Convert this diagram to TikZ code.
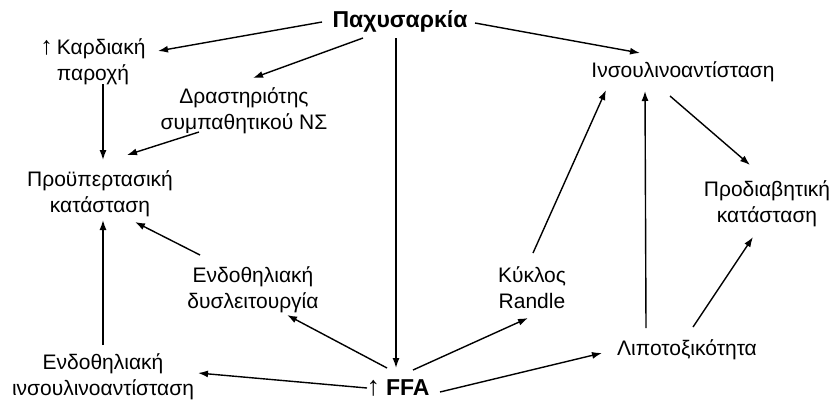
\documentclass[tikz,border=0pt]{standalone}
\usepackage{fontspec}
\setmainfont{Liberation Sans}
\usetikzlibrary{arrows.meta}
\newcommand{\uparr}[1]{{\fontsize{#1}{26}\selectfont ↑}}
\begin{document}
\begin{tikzpicture}[x=1pt,y=-1pt,
  lbl/.style={align=center,inner sep=0pt,font=\fontsize{21}{26}\selectfont},
  hd/.style={inner sep=0pt,font=\fontsize{23}{26}\selectfont\bfseries},
  conn/.style={line width=1.4pt,-{Latex[length=10pt,width=7pt]}}]
\useasboundingbox (0,0) rectangle (834,400);
% labels
\node[hd]  (pax)    at (400,21)  {Παχυσαρκία};
\node[lbl] (kard)   at (93,62)   {{\bfseries\uparr{25}}\hspace{4pt}Καρδιακή\\παροχή};
\node[lbl] (drast)  at (244,111) {Δραστηριότης\\συμπαθητικού ΝΣ};
\node[lbl] (proy)   at (100,194) {Προϋπερτασική\\κατάσταση};
\node[lbl] (endys)  at (253,290) {Ενδοθηλιακή\\δυσλειτουργία};
\node[lbl] (endins) at (103,377) {Ενδοθηλιακή\\ινσουλινοαντίσταση};
\node[hd]  (ffa)    at (398,388) {{\mdseries\uparr{27}}\hspace{6pt}FFA};
\node[lbl] (insr)   at (683,72)  {Ινσουλινοαντίσταση};
\node[lbl] (prod)   at (767,204) {Προδιαβητική\\κατάσταση};
\node[lbl] (randle) at (532,288) {Κύκλος\\Randle};
\node[lbl] (lipo)   at (687,350) {Λιποτοξικότητα};
% connectors
\draw[conn] ([shift={(-78,1)}]pax.center)   -- ([shift={(65,-11)}]kard.center);
\draw[conn] ([shift={(-37,17)}]pax.center)  -- ([shift={(9,-33)}]drast.center);
\draw[conn] ([shift={(75,2)}]pax.center)    -- ([shift={(-43,-19)}]insr.center);
\draw[conn] ([shift={(-4,17)}]pax.center)   -- ([shift={(-2,-20)}]ffa.center);
\draw[conn] ([shift={(10,22)}]kard.center)  -- ([shift={(3,-34)}]proy.center);
\draw[conn] ([shift={(-45,21)}]drast.center) -- ([shift={(27,-39)}]proy.center);
\draw[conn] ([shift={(-53,-35)}]endys.center) -- ([shift={(35,28)}]proy.center);
\draw[conn] ([shift={(0,-32)}]endins.center) -- ([shift={(3,26)}]proy.center);
\draw[conn] ([shift={(-11,-20)}]ffa.center) -- ([shift={(34,25)}]endys.center);
\draw[conn] ([shift={(-31,0)}]ffa.center)  -- ([shift={(95,-4)}]endins.center);
\draw[conn] ([shift={(15,-18)}]ffa.center)  -- ([shift={(-4,30)}]randle.center);
\draw[conn] ([shift={(42,4)}]ffa.center)    -- ([shift={(-85,3)}]lipo.center);
\draw[conn] ([shift={(1,-35)}]randle.center) -- ([shift={(-77,18)}]insr.center);
\draw[conn] ([shift={(-41,-22)}]lipo.center) -- ([shift={(-38,19)}]insr.center);
\draw[conn] ([shift={(6,-23)}]lipo.center)  -- ([shift={(-14,33)}]prod.center);
\draw[conn] ([shift={(-13,24)}]insr.center) -- ([shift={(-17,-39)}]prod.center);
\end{tikzpicture}
\end{document}
